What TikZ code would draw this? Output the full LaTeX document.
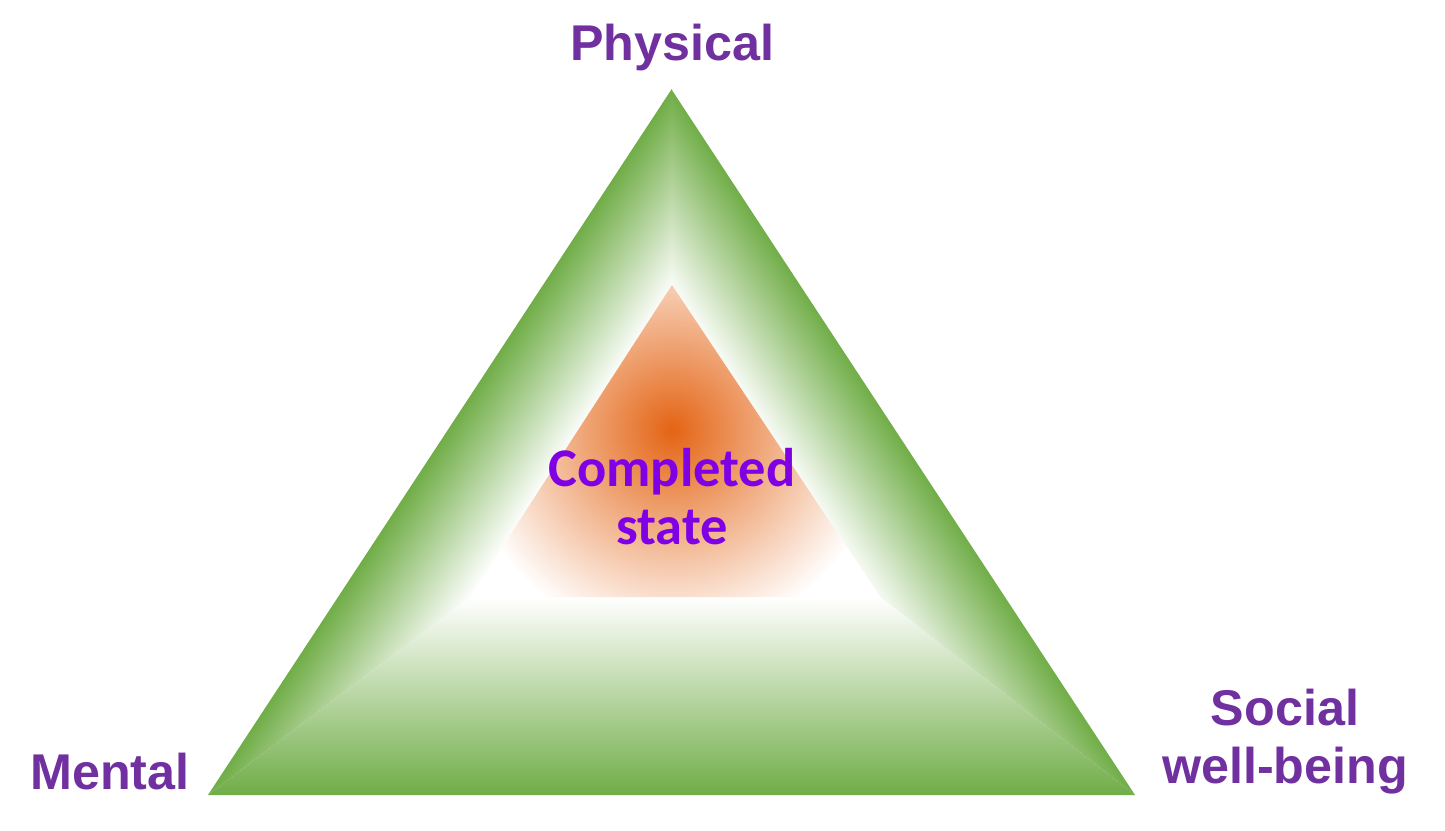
\documentclass[tikz,border=0pt]{standalone}
\usepackage{fontspec}
\setmainfont{Liberation Sans}
\newfontfamily\calfont{Carlito}
\definecolor{grn}{RGB}{112,173,71}
\definecolor{org}{RGB}{228,100,20}
\definecolor{lbl}{RGB}{112,48,160}
\definecolor{ctr}{RGB}{128,0,230}
\tikzset{lab/.style={text=lbl,font=\fontsize{14.3}{16.5}\selectfont\bfseries,align=center},
 clab/.style={text=ctr,font=\calfont\fontsize{15.5}{16.5}\selectfont\bfseries,align=center}}
\begin{document}
\begin{tikzpicture}
\useasboundingbox (0,0) rectangle (14.45,8.3);
\coordinate (A) at (6.72,7.42);
\coordinate (B) at (2.08,0.35);
\coordinate (C) at (11.35,0.35);
\coordinate (a) at (6.72,5.45);
\coordinate (b) at (4.70,2.33);
\coordinate (c) at (8.80,2.33);
% left bevel
\begin{scope}
\clip (B)--(A)--(a)--(b)--cycle;
\begin{scope}[transform canvas={shift={(2.08,0.35)},rotate=-33.3}]
\shade[left color=grn,right color=white] (0,-12) rectangle (1.12,12);
\end{scope}
\end{scope}
% right bevel
\begin{scope}
\clip (C)--(A)--(a)--(c)--cycle;
\begin{scope}[transform canvas={shift={(11.35,0.35)},rotate=213.3}]
\shade[left color=grn,right color=white] (0,-12) rectangle (1.12,12);
\end{scope}
\end{scope}
% bottom bevel
\begin{scope}
\clip (B)--(C)--(c)--(b)--cycle;
\shade[bottom color=grn,top color=white] (1,0.35) rectangle (12,2.33);
\end{scope}
% inner
\fill[white] (a)--(b)--(c)--cycle;
\begin{scope}
\clip (a)--(b)--(c)--cycle;
\shade[inner color=org,outer color=white] (6.72,4.0) circle (2.1);
\end{scope}
\node[lab] (phys) at (6.72,7.82) {Physical};
\node[lab] (ment) at (1.10,0.58) {Mental};
\node[lab] (soc) at (12.85,0.88) {Social\\well-being};
\node[clab] (cs) at (6.72,3.33) {Completed\\state};
\end{tikzpicture}
\end{document}
